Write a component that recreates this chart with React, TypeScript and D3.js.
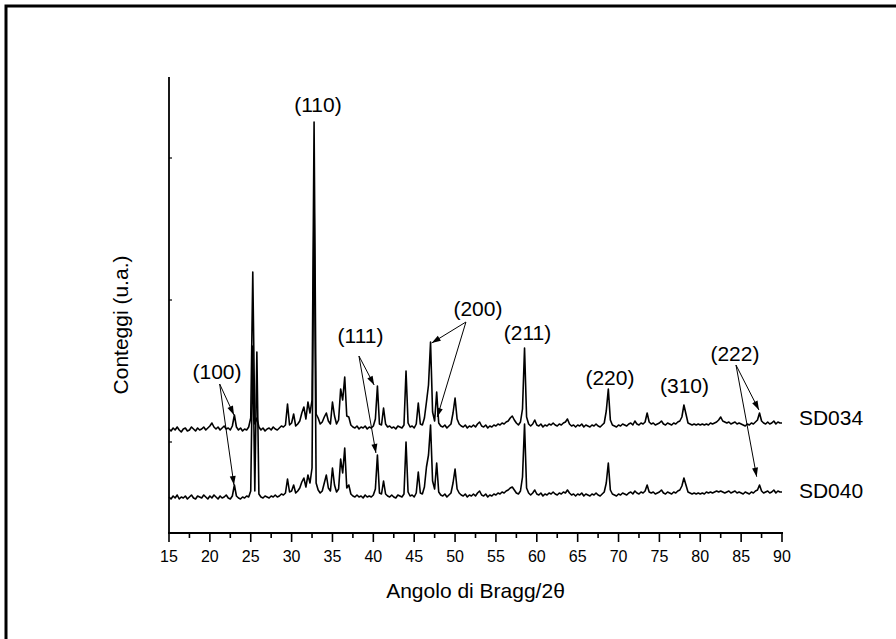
import React from "react";
import * as d3 from "d3";

// 2θ grid: start and step of the recorded scans
const angleStart = 15;
const angleStep = 0.25;

// Counts (u.a.) for sample SD034, one value every 0.25° from 15° to 90°
const sd034 = [
  1040, 1020, 1050, 1030, 1060, 1030, 1010, 1040, 1050, 1020, 1030, 1060, 1040, 1020, 1050, 1030, 1040, 1060, 1030, 1050,
  1070, 1100, 1060, 1040, 1060, 1030, 1050, 1070, 1040, 1050, 1030, 1070, 1180, 1060, 1030, 1050, 1020, 1040, 1030, 1060,
  1150, 2610, 1090, 1150, 1060, 1030, 1050, 1020, 1040, 1050, 1030, 1060, 1040, 1030, 1050, 1070, 1060, 1080, 1290, 1080,
  1100, 1190, 1070, 1090, 1120, 1200, 1260, 1140, 1310, 1200, 1330, 4110, 1190, 1150, 1090, 1110, 1160, 1200, 1120, 1090,
  1310, 1170, 1090, 1130, 1440, 1330, 1560, 1170, 1160, 1080, 1060, 1050, 1070, 1040, 1060, 1050, 1070, 1040, 1060, 1050,
  1070, 1140, 1470, 1090, 1080, 1250, 1090, 1060, 1070, 1050, 1060, 1040, 1070, 1060, 1050, 1080, 1620, 1100, 1060, 1070,
  1050, 1090, 1300, 1090, 1080, 1150, 1310, 1480, 1910, 1210, 1120, 1410, 1100, 1070, 1060, 1080, 1050, 1070, 1090, 1200,
  1350, 1140, 1090, 1070, 1060, 1080, 1050, 1070, 1060, 1080, 1060, 1090, 1110, 1070, 1060, 1080, 1050, 1070, 1060, 1080,
  1070, 1090, 1080, 1100, 1090, 1110, 1120, 1150, 1170, 1130, 1100, 1080, 1110, 1240, 1850, 1160, 1090, 1070, 1090, 1130,
  1080, 1070, 1090, 1060, 1080, 1070, 1090, 1080, 1100, 1080, 1070, 1090, 1080, 1100, 1110, 1140, 1090, 1070, 1080, 1060,
  1080, 1070, 1090, 1060, 1080, 1070, 1060, 1080, 1070, 1090, 1070, 1060, 1080, 1100, 1220, 1440, 1130, 1080, 1070, 1060,
  1080, 1070, 1090, 1080, 1070, 1090, 1100, 1080, 1120, 1090, 1080, 1100, 1090, 1110, 1200, 1110, 1090, 1100, 1080, 1090,
  1100, 1120, 1090, 1080, 1100, 1090, 1080, 1100, 1090, 1110, 1120, 1160, 1280, 1190, 1100, 1090, 1080, 1090, 1080, 1090,
  1080, 1090, 1080, 1090, 1080, 1100, 1090, 1100, 1110, 1130, 1160, 1120, 1110, 1100, 1110, 1090, 1100, 1110, 1090, 1100,
  1090, 1080, 1070, 1090, 1080, 1100, 1090, 1110, 1130, 1200, 1120, 1100, 1090, 1110, 1090, 1100, 1120, 1090, 1110, 1100,
  1100,
];

// Counts (u.a.) for sample SD040, same grid
const sd040 = [
  360, 340, 370, 350, 380, 340, 360, 350, 370, 340, 360, 380, 350, 340, 370, 360, 350, 380, 360, 340,
  370, 350, 380, 360, 340, 370, 350, 360, 380, 350, 340, 370, 480, 370, 350, 340, 360, 350, 370, 360,
  420, 1870, 420, 1810, 390, 360, 350, 370, 360, 350, 370, 360, 380, 360, 370, 390, 380, 400, 540, 410,
  420, 480, 400, 420, 450, 510, 550, 460, 580, 500, 650, 3400, 500, 430, 400, 420, 500, 580, 450, 420,
  650, 480, 410, 440, 740, 600, 850, 450, 480, 390, 370, 360, 380, 360, 370, 350, 380, 360, 370, 360,
  380, 440, 780, 400, 390, 520, 390, 370, 360, 380, 360, 350, 380, 370, 360, 390, 910, 410, 370, 380,
  360, 400, 610, 400, 390, 460, 660, 780, 1080, 520, 440, 700, 410, 380, 370, 390, 360, 380, 400, 500,
  640, 440, 400, 380, 370, 390, 360, 380, 370, 390, 370, 400, 420, 380, 370, 390, 360, 380, 370, 390,
  380, 400, 390, 410, 400, 420, 430, 450, 460, 430, 400, 390, 420, 560, 1090, 450, 400, 380, 400, 430,
  390, 380, 400, 370, 390, 380, 400, 390, 410, 390, 380, 400, 390, 410, 400, 430, 400, 380, 390, 370,
  390, 380, 400, 370, 390, 380, 370, 390, 380, 400, 380, 370, 390, 410, 500, 700, 430, 390, 380, 370,
  390, 380, 400, 390, 380, 400, 410, 390, 420, 400, 390, 410, 400, 420, 480, 410, 400, 410, 390, 400,
  410, 430, 400, 390, 410, 400, 390, 410, 400, 420, 430, 470, 550, 480, 410, 400, 390, 400, 390, 400,
  390, 400, 390, 410, 400, 410, 400, 410, 420, 410, 420, 410, 400, 410, 420, 400, 410, 420, 400, 410,
  400, 390, 410, 400, 390, 410, 400, 420, 430, 480, 420, 400, 410, 420, 400, 410, 430, 400, 420, 410,
  410,
];

const xTicks = [15, 20, 25, 30, 35, 40, 45, 50, 55, 60, 65, 70, 75, 80, 85, 90];
const xMinorTicks = [17.5, 22.5, 27.5, 32.5, 37.5, 42.5, 47.5, 52.5, 57.5, 62.5, 67.5, 72.5, 77.5, 82.5, 87.5];
const yTicks = [910, 2330, 3750];

// Miller-index labels: text, label anchor (2θ, counts), arrow start and arrow tips
const peakLabels = [
  { text: "(110)", x: 33.23, y: 4210, from: null, tips: [] },
  { text: "(100)", x: 20.87, y: 1540, from: [21.2, 1490], tips: [[22.95, 1180], [22.95, 480]] },
  { text: "(111)", x: 38.43, y: 1900, from: [38.24, 1770], tips: [[40.1, 1480], [40.32, 800]] },
  { text: "(200)", x: 52.8, y: 2170, from: [51.33, 2110], tips: [[47.14, 1900], [47.82, 1160]] },
  { text: "(211)", x: 58.86, y: 1930, from: null, tips: [] },
  { text: "(220)", x: 68.95, y: 1480, from: null, tips: [] },
  { text: "(310)", x: 78.07, y: 1400, from: null, tips: [] },
  { text: "(222)", x: 84.24, y: 1720, from: [84.37, 1680], tips: [[87.18, 1230], [86.9, 563]] },
];

const seriesNames = ["SD034", "SD040"];
const seriesLabelPos = [
  [92.07, 1080],
  [92.07, 350],
];

const FONT = "'Liberation Sans', Arial, Helvetica, sans-serif";

export default function App() {
  const W = 896;
  const H = 639;
  const x = d3.scaleLinear().domain([15, 90]).range([169, 782]);
  const y = d3.scaleLinear().domain([0, 4560]).range([533, 77]);

  const line = d3
    .line<number>()
    .x((_, i) => x(angleStart + i * angleStep))
    .y((d) => y(d));

  const arrowHead = (x0: number, y0: number, x1: number, y1: number) => {
    const dx = x1 - x0;
    const dy = y1 - y0;
    const len = Math.hypot(dx, dy);
    const ux = dx / len;
    const uy = dy / len;
    const L = 9;
    const Wd = 3;
    const bx = x1 - ux * L;
    const by = y1 - uy * L;
    return `${x1},${y1} ${bx - uy * Wd},${by + ux * Wd} ${bx + uy * Wd},${by - ux * Wd}`;
  };

  return (
    <svg
      width={W}
      height={H}
      style={{ position: "absolute", left: 0, top: 0, background: "#fff" }}
      fontFamily={FONT}
    >
      <rect x={6} y={6} width={W + 10} height={H + 10} fill="#fff" stroke="#000" strokeWidth={3} />

      {/* traces */}
      <path d={line(sd040) || ""} fill="none" stroke="#000" strokeWidth={1.6} strokeLinejoin="round" />
      <path d={line(sd034) || ""} fill="none" stroke="#000" strokeWidth={1.6} strokeLinejoin="round" />

      {/* axes */}
      <line x1={x(15)} x2={x(15)} y1={y(4560)} y2={y(0)} stroke="#000" strokeWidth={1.8} />
      <line x1={x(15) - 1} x2={x(90) + 1} y1={y(0)} y2={y(0)} stroke="#000" strokeWidth={1.8} />
      {yTicks.map((t) => (
        <line key={"yt" + t} x1={x(15)} x2={x(15) + 3} y1={y(t)} y2={y(t)} stroke="#000" strokeWidth={1.2} />
      ))}
      {xTicks.map((t) => (
        <g key={"xt" + t}>
          <line x1={x(t)} x2={x(t)} y1={y(0)} y2={y(0) + 9} stroke="#000" strokeWidth={1.6} />
          <text x={x(t)} y={562} fontSize={16} textAnchor="middle" fill="#000">
            {t}
          </text>
        </g>
      ))}
      {xMinorTicks.map((t) => (
        <line key={"xm" + t} x1={x(t)} x2={x(t)} y1={y(0)} y2={y(0) + 5} stroke="#000" strokeWidth={1.6} />
      ))}

      <text x={x(52.5)} y={598} fontSize={21} textAnchor="middle" fill="#000">
        Angolo di Bragg/2θ
      </text>
      <text transform="translate(128,325) rotate(-90)" fontSize={21} textAnchor="middle" fill="#000">
        Conteggi (u.a.)
      </text>

      {/* peak labels and arrows */}
      {peakLabels.map((p) => (
        <g key={p.text}>
          <text x={x(p.x)} y={y(p.y)} fontSize={21} textAnchor="middle" fill="#000">
            {p.text}
          </text>
          {p.from &&
            p.tips.map((tp, j) => {
              const x0 = x(p.from![0]);
              const y0 = y(p.from![1]);
              const x1 = x(tp[0]);
              const y1 = y(tp[1]);
              return (
                <g key={j}>
                  <line x1={x0} y1={y0} x2={x1} y2={y1} stroke="#000" strokeWidth={1} />
                  <polygon points={arrowHead(x0, y0, x1, y1)} fill="#000" />
                </g>
              );
            })}
        </g>
      ))}

      {seriesNames.map((n, i) => (
        <text key={n} x={x(seriesLabelPos[i][0])} y={y(seriesLabelPos[i][1])} fontSize={21} fill="#000">
          {n}
        </text>
      ))}
    </svg>
  );
}
